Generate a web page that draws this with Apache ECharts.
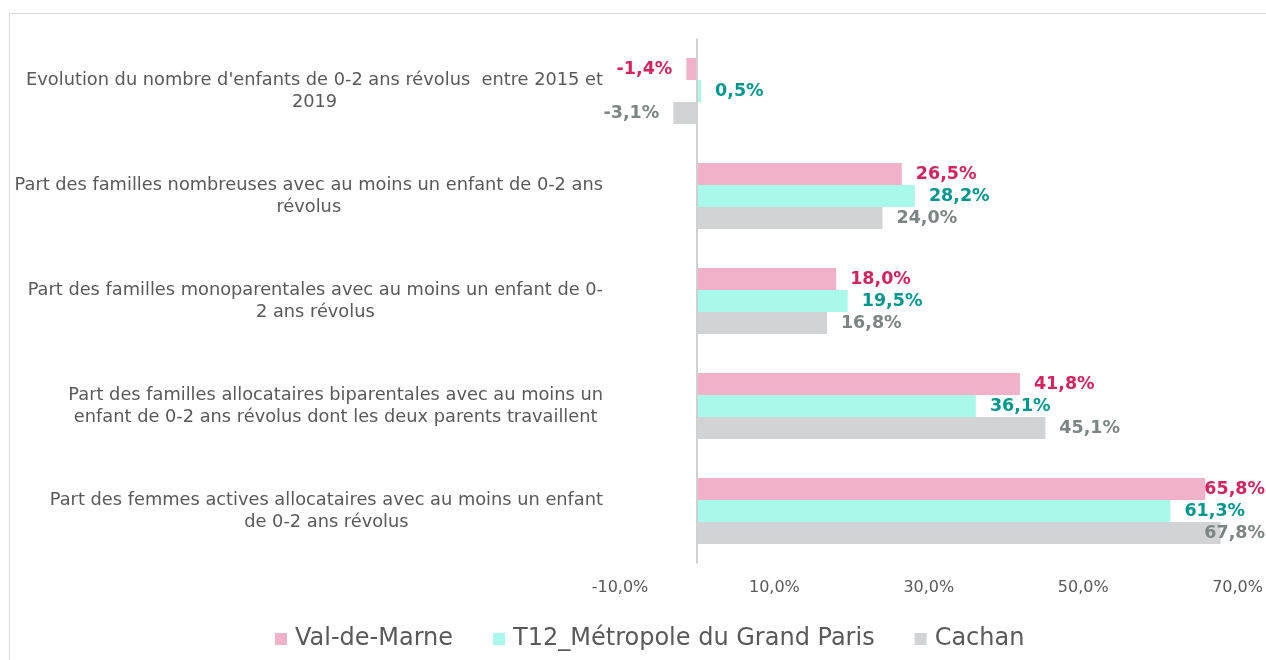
<!DOCTYPE html>
<html>
<head>
<meta charset="utf-8">
<script src="https://cdn.jsdelivr.net/npm/echarts@6/dist/echarts.min.js"></script>
<style>
html,body{margin:0;padding:0;background:#fff;}
#chart{width:1266px;height:660px;}
</style>
</head>
<body>
<div id="chart"></div>
<script>
const categories = [
  "Evolution du nombre d'enfants de 0-2 ans révolus  entre 2015 et\n2019",
  "Part des familles nombreuses avec au moins un enfant de 0-2 ans\nrévolus",
  "Part des familles monoparentales avec au moins un enfant de 0-\n2 ans révolus",
  "Part des familles allocataires biparentales avec au moins un\nenfant de 0-2 ans révolus dont les deux parents travaillent",
  "Part des femmes actives allocataires avec au moins un enfant\nde 0-2 ans révolus"
];
const seriesNames = ["Val-de-Marne", "T12_Métropole du Grand Paris", "Cachan"];
const valDeMarne = [-1.4, 26.5, 18.0, 41.8, 65.8];
const t12 = [0.5, 28.2, 19.5, 36.1, 61.3];
const cachan = [-3.1, 24.0, 16.8, 45.1, 67.8];
const xTickLabels = [-10, 10, 30, 50, 70];

const barColors = ['#f0b1c9', '#a9f9eb', '#d1d3d4'];
const labelColors = ['#d6225f', '#00978d', '#7c8584'];
const FONT = 'DejaVu Sans';
const W = 1266;

function fmt(v){ return v.toFixed(1).replace('.', ',') + '%'; }

function makeSeries(name, values, i){
  const s = {
    name: name,
    type: 'bar',
    barWidth: 22,
    barGap: '0%',
    itemStyle: { color: barColors[i] },
    label: {
      show: true,
      distance: 14,
      color: labelColors[i],
      fontFamily: FONT,
      fontWeight: 'bold',
      fontSize: 17.5,
      formatter: p => fmt(p.value)
    },
    labelLayout: function(params){
      const r = params.labelRect;
      if (r.x + r.width > W) {
        return { x: W - r.width - 1, y: r.y + r.height / 2, align: 'left', verticalAlign: 'middle' };
      }
      return {};
    },
    data: values.map(v => ({ value: v, label: { position: v < 0 ? 'left' : 'right' } }))
  };
  if (i === 0) {
    s.markLine = {
      silent: true,
      symbol: 'none',
      label: { show: false },
      lineStyle: { color: '#d0d0d0', width: 2, type: 'solid' },
      data: [{ xAxis: 0 }]
    };
  }
  return s;
}

const chart = echarts.init(document.getElementById('chart'), null, { renderer: 'canvas' });
chart.setOption({
  animation: false,
  backgroundColor: '#ffffff',
  graphic: [{
    type: 'rect', left: 7, top: 11, silent: true,
    shape: { width: 1300, height: 700 },
    style: { fill: 'none', stroke: '#d9d9d9', lineWidth: 1 }
  }],
  legend: {
    data: seriesNames,
    left: 270,
    top: 622,
    icon: 'rect',
    itemWidth: 12,
    itemHeight: 12,
    itemGap: 40,
    textStyle: { fontFamily: FONT, fontSize: 24, color: '#595959', padding: [0,0,0,3] }
  },
  grid: { left: 620, right: 27, top: 38.5, bottom: 96.5, containLabel: false },
  xAxis: {
    type: 'value',
    min: -10,
    max: 70,
    interval: 10,
    axisLine: { show: false },
    axisTick: { show: false },
    splitLine: { show: false },
    axisLabel: {
      margin: 16,
      color: '#595959',
      fontFamily: FONT,
      fontSize: 16,
      showMaxLabel: true,
      showMinLabel: true,
      formatter: v => xTickLabels.indexOf(v) >= 0 ? fmt(v) : ''
    }
  },
  yAxis: {
    type: 'category',
    inverse: true,
    data: categories,
    axisLine: { show: false },
    axisTick: { show: false },
    axisLabel: {
      margin: 17,
      align: 'right',
      color: '#595959',
      fontFamily: FONT,
      fontSize: 17.8,
      lineHeight: 22,
      formatter: v => v.split('\n').map(l => '{c|' + l + '}').join('\n'),
      rich: { c: { align: 'center', color: '#595959', fontFamily: FONT, fontSize: 17.8, lineHeight: 22 } }
    }
  },
  series: [
    makeSeries(seriesNames[0], valDeMarne, 0),
    makeSeries(seriesNames[1], t12, 1),
    makeSeries(seriesNames[2], cachan, 2)
  ]
});
</script>
</body>
</html>
